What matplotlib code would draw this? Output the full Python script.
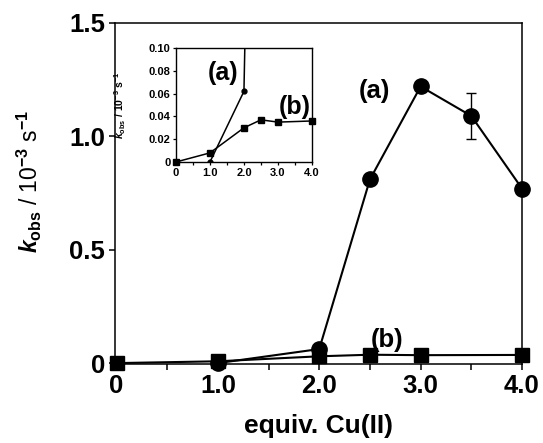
import matplotlib
matplotlib.use('Agg')
import matplotlib.pyplot as plt

plt.rcParams['font.family'] = ['Liberation Sans', 'DejaVu Sans']
plt.rcParams['font.weight'] = 'bold'
plt.rcParams['mathtext.fontset'] = 'custom'
plt.rcParams['mathtext.rm'] = 'Liberation Sans:bold'
plt.rcParams['mathtext.it'] = 'Liberation Sans:italic:bold'
plt.rcParams['mathtext.bf'] = 'Liberation Sans:bold'
plt.rcParams['mathtext.sf'] = 'Liberation Sans'
plt.rcParams['mathtext.cal'] = 'Liberation Sans:italic'

# series (a): circles, series (b): squares
equiv_a = [1.0, 2.0, 2.5, 3.0, 3.5, 4.0]
kobs_a = [0.0, 0.062, 0.81, 1.22, 1.09, 0.77]
err_a = [0, 0, 0, 0, 0.10, 0]

equiv_b = [0.0, 1.0, 2.0, 2.5, 3.0, 4.0]
kobs_b = [0.0, 0.008, 0.030, 0.037, 0.035, 0.036]

main_xticks = [0, 1, 2, 3, 4]
main_xlabels = ['0', '1.0', '2.0', '3.0', '4.0']
main_yticks = [0, 0.5, 1.0, 1.5]
main_ylabels = ['0', '0.5', '1.0', '1.5']
inset_yticks = [0, 0.02, 0.04, 0.06, 0.08, 0.10]
inset_ylabels = ['0', '0.02', '0.04', '0.06', '0.08', '0.10']

fig = plt.figure(figsize=(5.43, 4.43), dpi=100)

# main plot
ax = fig.add_axes([0.2118, 0.1783, 0.7495, 0.7698])
ax.errorbar(equiv_a, kobs_a, yerr=err_a, color='black', lw=1.5, marker='o',
            ms=11, capsize=3.5, elinewidth=1, capthick=1, clip_on=False, zorder=3)
ax.plot(equiv_b, kobs_b, color='black', lw=1.5, marker='s', ms=10,
        clip_on=False, zorder=4)
ax.set_xlim(-0.015, 4.0)
ax.set_ylim(-0.004, 1.5)
ax.set_xticks(main_xticks)
ax.set_xticklabels(main_xlabels)
ax.set_xticks([0.5, 1.5, 2.5, 3.5], minor=True)
ax.set_yticks(main_yticks)
ax.set_yticklabels(main_ylabels)
ax.tick_params(which='both', direction='out', length=4, width=1.1,
               labelsize=18.5, pad=3)
for s in ax.spines.values():
    s.set_linewidth(1.1)
ax.set_xlabel('equiv. Cu(II)', fontsize=19, fontweight='bold', labelpad=12)
ax.set_ylabel(r'$\it{k}_{\rm{obs}}$ / 10$^{-3}$ s$^{-1}$', fontsize=16.5)
ax.yaxis.set_label_coords(-0.175, 0.535)
ax.text(2.54, 1.2, '(a)', fontsize=18.5, fontweight='bold', ha='center', va='center')
ax.text(2.67, 0.10, '(b)', fontsize=18.5, fontweight='bold', ha='center', va='center')

# inset
ins = fig.add_axes([0.324, 0.6343, 0.2505, 0.2573])
ins.plot(equiv_a, kobs_a, color='black', lw=1.1, marker='o', ms=3.5, zorder=3)
ins.plot(equiv_b, kobs_b, color='black', lw=1.1, marker='s', ms=3.8,
         clip_on=False, zorder=4)
ins.set_xlim(0, 4.0)
ins.set_ylim(0, 0.10)
ins.set_xticks(main_xticks)
ins.set_xticklabels(main_xlabels)
ins.set_xticks([0.5, 1.5, 2.5, 3.5], minor=True)
ins.set_yticks(inset_yticks)
ins.set_yticklabels(inset_ylabels)
ins.tick_params(which='both', direction='out', length=2.5, width=0.9,
                labelsize=8, pad=1.5)
for s in ins.spines.values():
    s.set_linewidth(1.0)
ins.set_ylabel(r'$\mathcal{k}_{\mathsf{obs}}$$\mathsf{\ /\ 10^{-3}\ s^{-1}}$',
               fontsize=7.5)
ins.yaxis.set_label_coords(-0.35, 0.5)
ins.text(1.38, 0.078, '(a)', fontsize=18, fontweight='bold', ha='center', va='center')
ins.text(3.49, 0.048, '(b)', fontsize=18, fontweight='bold', ha='center', va='center')

fig.savefig('out.png', dpi=100)
